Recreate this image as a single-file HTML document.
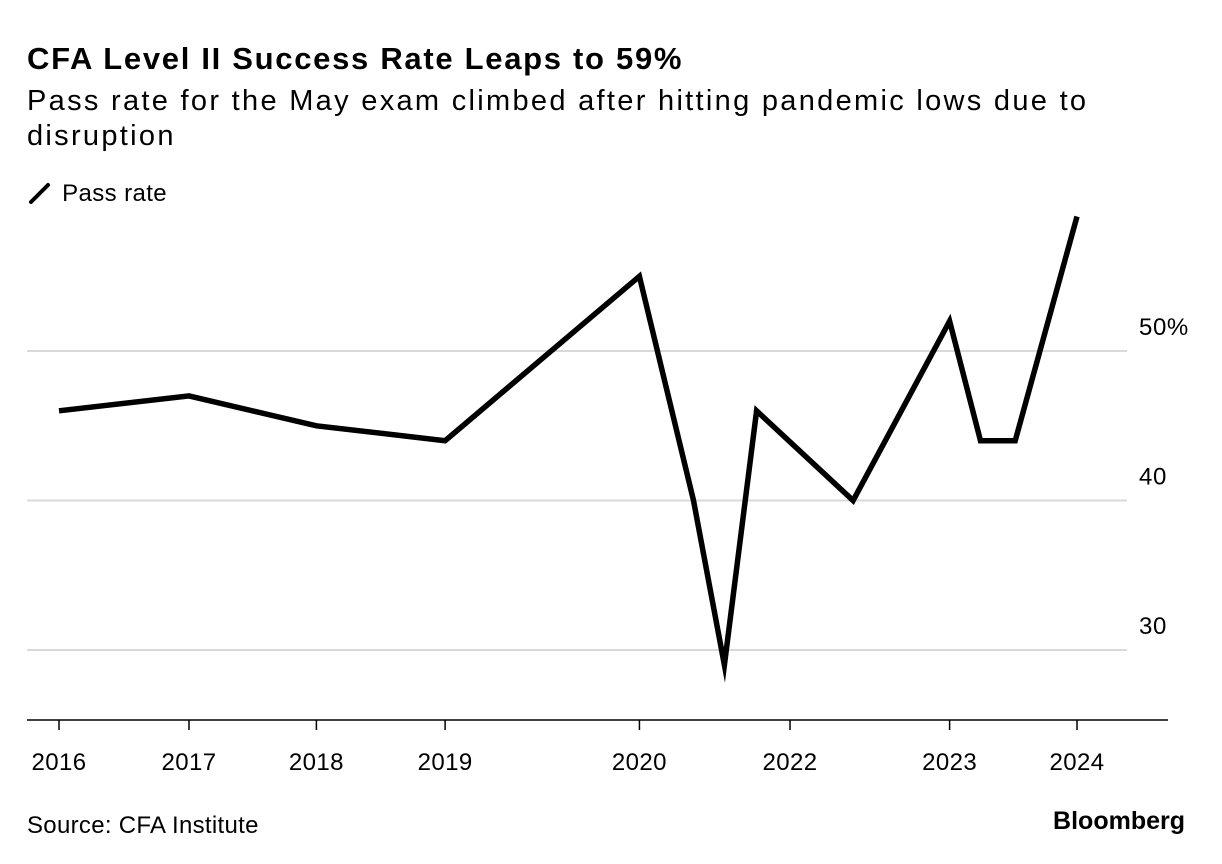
<!DOCTYPE html>
<html><head><meta charset="utf-8">
<style>
body{margin:0;background:#fff;font-family:"Liberation Sans",sans-serif;color:#000}
#wrap{position:relative;width:1222px;height:864px;overflow:hidden}
.t{position:absolute;white-space:nowrap}
</style></head>
<body><div id="wrap">
<div class="t" style="left:27px;top:41px;font-size:31px;font-weight:bold;letter-spacing:1.7px">CFA Level II Success Rate Leaps to 59%</div>
<div class="t" style="left:27px;top:84px;font-size:29px;line-height:35px;letter-spacing:2.3px;white-space:normal;width:1120px">Pass rate for the May exam climbed after hitting pandemic lows due to disruption</div>
<div class="t" style="left:27px;top:180px;font-size:24px;letter-spacing:0.4px">
<svg width="28" height="26" style="vertical-align:-5px"><line x1="4" y1="22" x2="21" y2="5" stroke="#000" stroke-width="4" stroke-linecap="round"/></svg> Pass rate</div>
<svg id="chart" width="1222" height="864" style="position:absolute;left:0;top:0"></svg>
<div class="t" style="left:27px;top:812px;font-size:24px;letter-spacing:0.3px">Source: CFA Institute</div>
<div class="t" style="right:37px;top:807px;font-size:25px;font-weight:bold;letter-spacing:0px">Bloomberg</div>
</div>
<script>
const dates=[2016.45,2017.46,2018.45,2019.45,2020.96,2021.38,2021.62,2021.87,2022.62,2023.37,2023.61,2023.88,2024.36];
const passRates=[46,47,45,44,55,40,29,46,40,52,44,44,59];
const xTickDates=[2016.45,2017.46,2018.45,2019.45,2020.96,2022.13,2023.37,2024.36];
const xTickLabels=["2016","2017","2018","2019","2020","2022","2023","2024"];
const yTicks=[30,40,50];
const yTickLabels=["30","40","50%"];
const NS="http://www.w3.org/2000/svg";
const svg=document.getElementById('chart');
const x=t=>59+(t-2016.45)*128.7;
const y=v=>351-(v-50)*14.95;
function mk(tag,attrs){const e=document.createElementNS(NS,tag);for(const k in attrs)e.setAttribute(k,attrs[k]);svg.appendChild(e);return e;}
yTicks.forEach((v,i)=>{
 const g=mk('line',{x1:27,x2:1127,y1:y(v),y2:y(v),stroke:'#d9d9d9','stroke-width':2});
 
 
 const t=mk('text',{x:1139,y:y(v)-16,'font-size':24,'letter-spacing':0.6,'font-family':'Liberation Sans, sans-serif'});
 t.textContent=yTickLabels[i];
 
 
});
const ax=mk('line',{x1:27,x2:1168,y1:720,y2:720,stroke:'#000','stroke-width':1.5});


xTickDates.forEach((d,i)=>{
 const tk=mk('line',{x1:x(d),x2:x(d),y1:720,y2:730,stroke:'#000','stroke-width':1.5});
 
 
 const t=mk('text',{x:x(d),y:770,'font-size':24,'letter-spacing':0.4,'text-anchor':'middle','font-family':'Liberation Sans, sans-serif'});
 t.textContent=xTickLabels[i];
 
 
});
const pts=dates.map((d,i)=>x(d).toFixed(1)+','+y(passRates[i]).toFixed(1)).join(' ');
const line=mk('polyline',{points:pts,fill:'none',stroke:'#000','stroke-width':5.5,'stroke-linejoin':'miter','stroke-miterlimit':10});


</script>
</body></html>
